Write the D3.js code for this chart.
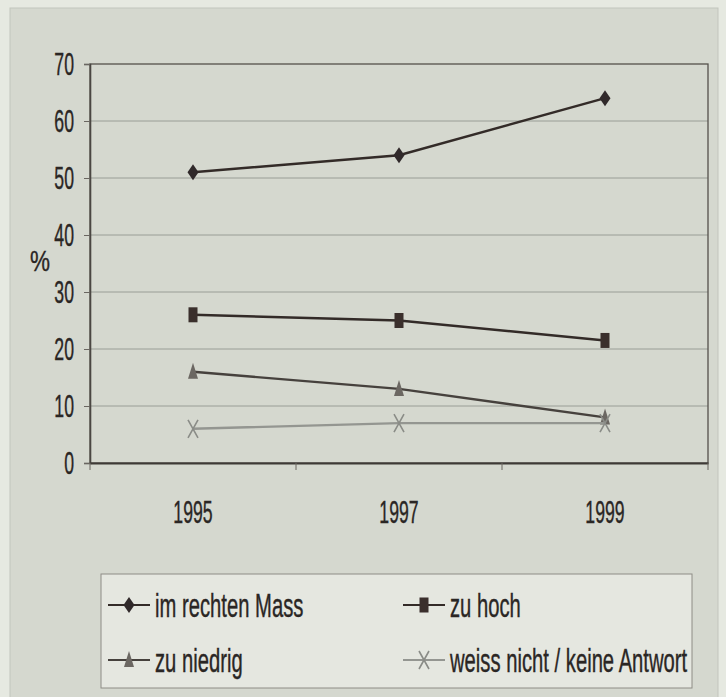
<!DOCTYPE html>
<html>
<head>
<meta charset="utf-8">
<script src="https://cdn.jsdelivr.net/npm/d3@7"></script>
<style>
  body { margin: 0; background: #e6e9e1; }
  text { font-family: "Liberation Sans", Arial, sans-serif; fill: #2a2624; stroke: #2a2624; stroke-width: 0.4px; }
</style>
</head>
<body>
<div id="chart"></div>
<script>
const years = ['1995', '1997', '1999'];
const imRechtenMass = [51, 54, 64];
const zuHoch = [26, 25, 21.5];
const zuNiedrig = [16, 13, 8];
const weissNicht = [6, 7, 7];
const yTicks = [0, 10, 20, 30, 40, 50, 60, 70];
const seriesNames = ['im rechten Mass', 'zu hoch', 'zu niedrig', 'weiss nicht / keine Antwort'];

const W = 726, H = 697;
const plot = { left: 90, right: 708, top: 64, bottom: 463 };
const squeeze = 0.57;

const svg = d3.select('#chart').append('svg')
    .attr('width', W).attr('height', H);

// scanned page panel
svg.append('rect')
    .attr('x', 10).attr('y', 8).attr('width', 708).attr('height', 700)
    .attr('fill', '#d5d8cf').attr('stroke', '#c2c5bd');

const x = d3.scaleBand().domain(years).range([plot.left, plot.right]);
const y = d3.scaleLinear().domain([0, 70]).range([plot.bottom, plot.top]);

// gridlines
svg.append('g')
    .selectAll('line')
    .data(yTicks.filter(d => d > 0 && d < 70))
    .enter().append('line')
    .attr('x1', plot.left).attr('x2', plot.right)
    .attr('y1', d => y(d)).attr('y2', d => y(d))
    .attr('stroke', '#8c8f88').attr('stroke-width', 0.8);

// plot frame
svg.append('rect')
    .attr('x', plot.left).attr('y', plot.top)
    .attr('width', plot.right - plot.left).attr('height', plot.bottom - plot.top)
    .attr('fill', 'none').attr('stroke', '#55514c').attr('stroke-width', 1.3);

// Y axis
const yAxis = svg.append('g')
    .attr('transform', `translate(${plot.left},0)`)
    .call(d3.axisLeft(y).tickValues(yTicks).tickSize(6).tickPadding(4));
yAxis.select('.domain').attr('stroke', '#4a4642').attr('stroke-width', 1.6);
yAxis.selectAll('.tick line').attr('stroke', '#6a6661');
yAxis.selectAll('.tick text')
    .style('font-size', '31px')
    .style('font-family', '"Liberation Sans", Arial, sans-serif')
    .attr('fill', '#2a2624')
    .attr('x', 0).attr('dy', '0.35em')
    .attr('transform', `translate(-16,0) scale(${squeeze},1)`)
    .attr('text-anchor', 'end');

// X axis
const xAxis = svg.append('g')
    .attr('transform', `translate(0,${plot.bottom})`)
    .call(d3.axisBottom(x).tickSize(0).tickPadding(0));
xAxis.select('.domain').attr('stroke', '#3e3a36').attr('stroke-width', 2.2);
xAxis.selectAll('.tick text')
    .style('font-size', '31px')
    .style('font-family', '"Liberation Sans", Arial, sans-serif')
    .attr('fill', '#2a2624')
    .attr('y', 0).attr('dy', '0.35em')
    .attr('transform', `translate(0,49) scale(${squeeze},1)`)
    .attr('x', 0);
// category boundary ticks
xAxis.append('g').selectAll('line')
    .data(years.concat(['end']))
    .enter().append('line')
    .attr('x1', (d, i) => i < years.length ? x(d) : plot.right)
    .attr('x2', (d, i) => i < years.length ? x(d) : plot.right)
    .attr('y1', 0).attr('y2', 7)
    .attr('stroke', '#6a6661');

// "%" label
svg.append('text')
    .attr('transform', `translate(40,271) scale(0.75,1)`)
    .attr('text-anchor', 'middle')
    .style('font-size', '30px')
    .text('%');

// symbols
const markers = {
    diamond: (g, c) => g.append('path').attr('d', 'M0,-8 L5.5,0 L0,8 L-5.5,0Z').attr('fill', c),
    square: (g, c) => g.append('rect').attr('x', -4.5).attr('y', -7.5).attr('width', 9).attr('height', 15).attr('fill', c),
    triangle: (g, c) => g.append('path').attr('d', 'M0,-9 L5,7 L-5,7Z').attr('fill', c),
    cross: (g, c) => g.append('path').attr('d', 'M-5,-9 L5,9 M5,-9 L-5,9').attr('stroke', c).attr('stroke-width', 1.6).attr('fill', 'none')
};

const series = [
    { name: seriesNames[0], values: imRechtenMass, line: '#332b28', mark: '#30292a', shape: 'diamond' },
    { name: seriesNames[1], values: zuHoch, line: '#332b28', mark: '#3a2f2c', shape: 'square' },
    { name: seriesNames[2], values: zuNiedrig, line: '#46413d', mark: '#6b6762', shape: 'triangle' },
    { name: seriesNames[3], values: weissNicht, line: '#949691', mark: '#8a8c87', shape: 'cross' }
];

const line = d3.line()
    .x((d, i) => x(years[i]) + x.bandwidth() / 2)
    .y(d => y(d));

series.forEach(s => {
    svg.append('path')
        .datum(s.values)
        .attr('d', line)
        .attr('fill', 'none')
        .attr('stroke', s.line)
        .attr('stroke-width', 2.4);
    s.values.forEach((v, i) => {
        const g = svg.append('g')
            .attr('transform', `translate(${x(years[i]) + x.bandwidth() / 2},${y(v)})`);
        markers[s.shape](g, s.mark);
    });
});

// Legend
const legend = svg.append('g');
legend.append('rect')
    .attr('x', 101).attr('y', 574).attr('width', 591).attr('height', 114)
    .attr('fill', '#e5e7e0').attr('stroke', '#8e8c86').attr('stroke-width', 1);

const legendPos = [
    { x: 108, y: 605 }, { x: 403, y: 605 },
    { x: 108, y: 660 }, { x: 403, y: 660 }
];
series.forEach((s, i) => {
    const p = legendPos[i];
    const g = legend.append('g').attr('transform', `translate(${p.x},${p.y})`);
    g.append('line').attr('x1', 0).attr('x2', 42).attr('y1', 0).attr('y2', 0)
        .attr('stroke', s.line).attr('stroke-width', 2.2);
    const m = g.append('g').attr('transform', 'translate(21,0)');
    markers[s.shape](m, s.mark);
    g.append('text')
        .attr('transform', `translate(47,0) scale(0.595,1)`)
        .attr('dy', '0.35em')
        .style('font-size', '34px')
        .text(s.name);
});
</script>
</body>
</html>
